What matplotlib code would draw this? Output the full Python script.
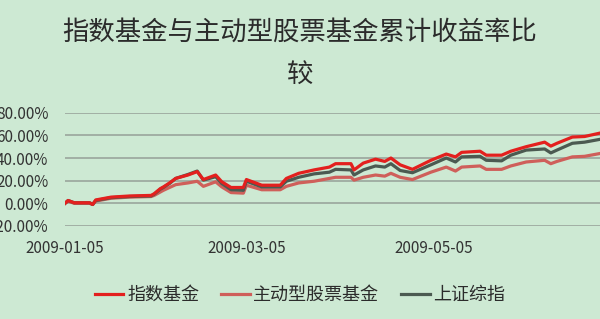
import matplotlib
matplotlib.use("Agg")
import matplotlib.pyplot as plt
import matplotlib.dates as mdates
from matplotlib.ticker import FuncFormatter
import pandas as pd

plt.rcParams['font.family'] = ['Noto Sans CJK SC', 'DejaVu Sans']

# sample dates
dates = ["2009-01-05", "2009-01-06", "2009-01-08", "2009-01-13", "2009-01-14",
         "2009-01-15", "2009-01-20", "2009-01-26", "2009-02-02", "2009-02-03",
         "2009-02-05", "2009-02-06", "2009-02-08", "2009-02-10", "2009-02-14",
         "2009-02-17", "2009-02-19", "2009-02-23", "2009-02-25", "2009-02-28",
         "2009-03-04", "2009-03-05", "2009-03-10", "2009-03-16", "2009-03-18",
         "2009-03-22", "2009-03-27", "2009-04-01", "2009-04-03", "2009-04-08",
         "2009-04-09", "2009-04-12", "2009-04-16", "2009-04-19", "2009-04-21",
         "2009-04-24", "2009-04-28", "2009-05-04", "2009-05-09", "2009-05-12",
         "2009-05-14", "2009-05-20", "2009-05-22", "2009-05-27", "2009-05-30",
         "2009-06-04", "2009-06-10", "2009-06-12", "2009-06-14", "2009-06-19",
         "2009-06-23", "2009-06-28"]

# cumulative return, %
index_fund = [0, 2.5, 0.5, 0.5, -1, 3, 5.5, 6.5, 7, 8.5,
              13, 14.5, 18, 22, 25, 28, 21, 25, 19, 14,
              14, 21, 16, 16, 22, 26.5, 29.5, 32, 35, 35,
              29.5, 35.5, 39, 37, 40, 34, 30, 38, 43.5, 41,
              45, 46, 42.5, 42.5, 46, 50, 54, 50.5, 53, 58.5,
              59, 62]
active_fund = [0, 2, 0, 0, -1, 2, 4.5, 5.5, 6, 7,
               10, 11.5, 14, 16.5, 18, 19.5, 15, 19, 14.5, 9.5,
               9, 16, 12, 12, 15, 18, 19.5, 22, 23, 23,
               20.5, 23, 25, 24, 26.5, 23, 21, 27.5, 32, 28.5,
               32, 33, 30, 30, 33, 36.5, 38, 35, 37, 41,
               41.5, 44]
sh_index = [0, 2.5, 0.5, 0.5, -1, 2.5, 5, 6, 6.5, 8,
            12.5, 14, 17.5, 22, 25.5, 28.5, 20.5, 23.5, 17.5, 12,
            11.5, 19.5, 14.5, 14.5, 19.5, 23, 26, 27.5, 30, 29.5,
            25, 29.5, 33, 32, 35, 29, 27, 34, 40, 36.5,
            41, 41.5, 38, 37.5, 42.5, 47, 48, 44.5, 47, 53,
            54, 56.5]

labels = ["指数基金", "主动型股票基金", "上证综指"]
xtick_dates = ["2009-01-05", "2009-03-05", "2009-05-05"]

x = pd.to_datetime(dates)
bg = "#cde9d3"

fig = plt.figure(figsize=(6, 3.19), dpi=100, facecolor=bg)
ax = fig.add_axes([65 / 600, 93 / 319, 535 / 600, 113.3 / 319])
ax.set_facecolor(bg)

ax.plot(x, active_fund, color="#cf5f5a", lw=2.3, label=labels[1], zorder=3)
ax.plot(x, sh_index, color="#4b5a51", lw=2.3, label=labels[2], zorder=4)
ax.plot(x, index_fund, color="#e3201e", lw=2.3, label=labels[0], zorder=5)

ax.set_ylim(-20, 80)
ax.set_yticks([-20, 0, 20, 40, 60, 80])
ax.yaxis.set_major_formatter(FuncFormatter(lambda v, p: f"{v:.2f}%"))
ax.set_xlim(pd.Timestamp("2009-01-05"), pd.Timestamp("2009-06-28"))
ax.set_xticks(pd.to_datetime(xtick_dates))
ax.xaxis.set_major_formatter(mdates.DateFormatter("%Y-%m-%d"))

ax.grid(axis="y", color="#9aa59c", lw=1.2, zorder=1)
for s in ax.spines.values():
    s.set_visible(False)
ax.tick_params(axis="both", length=0, labelsize=11, colors="#333333")
ax.tick_params(axis="y", pad=12)
ax.tick_params(axis="x", pad=10)

fig.text(0.5, 0.94, "指数基金与主动型股票基金累计收益率比\n较", ha="center", va="top",
         fontsize=19, color="#2b2b2b", linespacing=1.75)

h, l = ax.get_legend_handles_labels()
order = [2, 0, 1]
fig.legend([h[i] for i in order], [l[i] for i in order], loc="center",
           bbox_to_anchor=(0.5, 24 / 319), ncol=3, frameon=False, fontsize=13,
           handlelength=1.6, handletextpad=0.2, columnspacing=1.2,
           labelcolor="#2b2b2b")

fig.savefig("out.png", dpi=100, facecolor=bg)
